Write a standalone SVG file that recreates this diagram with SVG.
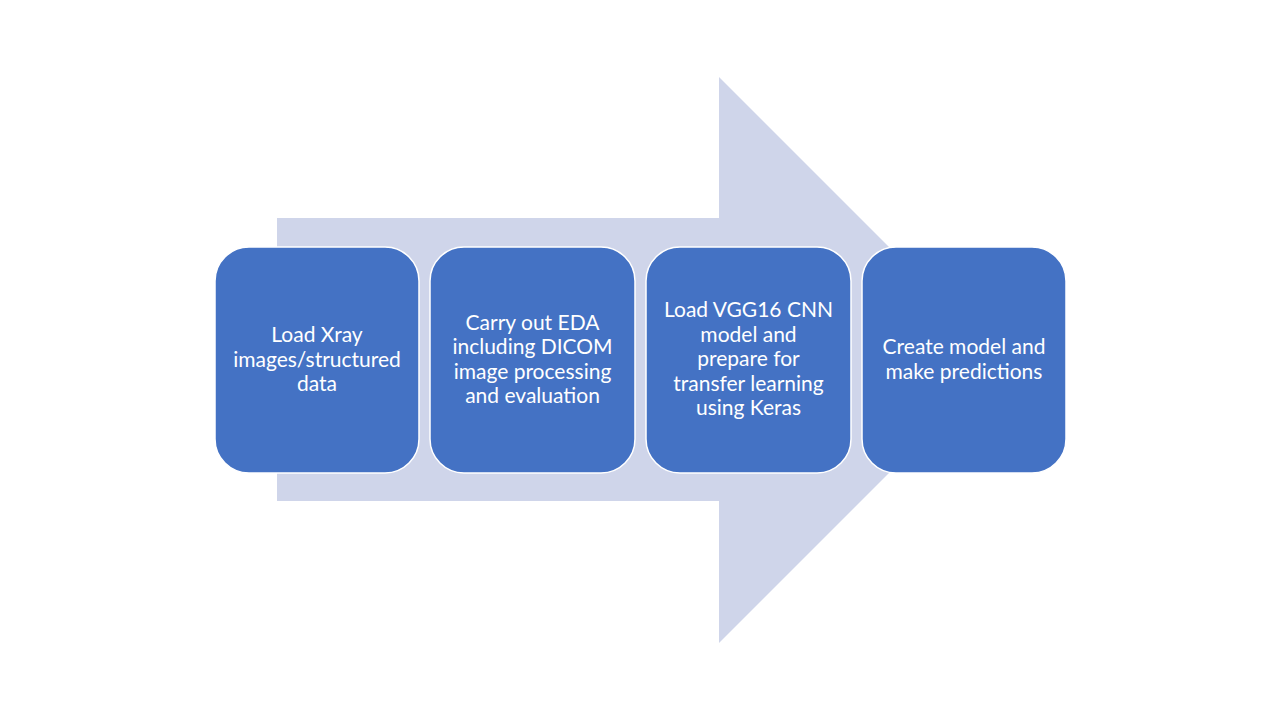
<svg xmlns="http://www.w3.org/2000/svg" width="1280" height="720" viewBox="0 0 1280 720">
<style>
.box{fill:#4472C4;stroke:#FFFFFF;stroke-width:1.5}
.lbl{font-family:Lato,"Open Sans","Liberation Sans",sans-serif;font-size:21px;fill:#FFFFFF;text-anchor:middle}
</style>
<rect width="1280" height="720" fill="#FFFFFF"/>
<g id="connectors">
<path d="M277,218 H719 V77 L1002,360 L719,643 V501 H277 Z" fill="#CFD5EA"/>
</g>
<g id="node1">
<rect class="box" x="215" y="247" width="204" height="226" rx="34" ry="34"/>
<text class="lbl"><tspan x="317" y="342">Load Xray</tspan><tspan x="317" y="366.5">images/structured</tspan><tspan x="317" y="391">data</tspan></text>
</g>
<g id="node2">
<rect class="box" x="430" y="247" width="205" height="226" rx="34" ry="34"/>
<text class="lbl"><tspan x="532.5" y="329.5">Carry out EDA</tspan><tspan x="532.5" y="354">including DICOM</tspan><tspan x="532.5" y="378.5">image processing</tspan><tspan x="532.5" y="403">and evaluation</tspan></text>
</g>
<g id="node3">
<rect class="box" x="646" y="247" width="205" height="226" rx="34" ry="34"/>
<text class="lbl"><tspan x="748.5" y="317">Load VGG16 CNN</tspan><tspan x="748.5" y="341.5">model and</tspan><tspan x="748.5" y="366">prepare for</tspan><tspan x="748.5" y="390.5">transfer learning</tspan><tspan x="748.5" y="415">using Keras</tspan></text>
</g>
<g id="node4">
<rect class="box" x="862" y="247" width="204" height="226" rx="34" ry="34"/>
<text class="lbl"><tspan x="964" y="354">Create model and</tspan><tspan x="964" y="378.5">make predictions</tspan></text>
</g>
</svg>
